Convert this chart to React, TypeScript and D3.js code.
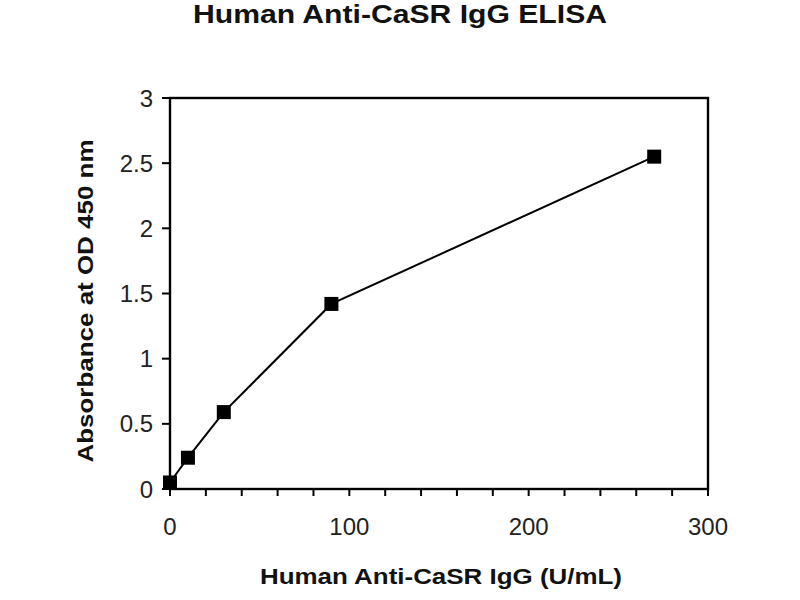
import React from "react";
import * as d3 from "d3";

const concentrations = [0, 10, 30, 90, 270];
const absorbance = [0.05, 0.24, 0.59, 1.42, 2.55];
const xTickLabels = [0, 100, 200, 300];
const yTickLabels = [0, 0.5, 1, 1.5, 2, 2.5, 3];
const xMinorTicks = d3.range(0, 301, 20);

export default function App() {
  const W = 800, H = 600;
  const left = 170, right = 708, top = 98, bottom = 489;
  const x = d3.scaleLinear().domain([0, 300]).range([left, right]);
  const y = d3.scaleLinear().domain([0, 3]).range([bottom, top]);
  const line = d3.line<number>()
    .x((_, i) => x(concentrations[i]))
    .y((d) => y(d));
  const font = "Arimo, 'Liberation Sans', Arial, sans-serif";
  const ms = 14;
  return (
    <svg width={W} height={H} style={{ position: "absolute", left: 0, top: 0, background: "#fff" }} fontFamily={font}>
      <rect width={W} height={H} fill="#fff" />
      <text x={400} y={23} textAnchor="middle" fontSize={25} fontWeight="bold" fill="#111"
        textLength={414} lengthAdjust="spacingAndGlyphs">Human Anti-CaSR IgG ELISA</text>
      <rect x={left} y={top} width={right - left} height={bottom - top} fill="none" stroke="#000" strokeWidth={2.4} />
      {xMinorTicks.map((t) => (
        <line key={"xt" + t} x1={x(t)} x2={x(t)} y1={bottom} y2={bottom + 7} stroke="#000" strokeWidth={2} />
      ))}
      {xTickLabels.map((t) => (
        <text key={"xl" + t} x={x(t)} y={535} textAnchor="middle" fontSize={24} fill="#222">{t}</text>
      ))}
      {yTickLabels.map((t) => (
        <g key={"y" + t}>
          <line x1={left - 8} x2={left} y1={y(t)} y2={y(t)} stroke="#000" strokeWidth={2} />
          <text x={153} y={y(t) + 8.5} textAnchor="end" fontSize={24} fill="#222">{t}</text>
        </g>
      ))}
      <path d={line(absorbance) || ""} fill="none" stroke="#000" strokeWidth={2} />
      {absorbance.map((v, i) => (
        <rect key={"m" + i} x={x(concentrations[i]) - ms / 2} y={y(v) - ms / 2} width={ms} height={ms} fill="#000" />
      ))}
      <text x={441} y={584} textAnchor="middle" fontSize={22} fontWeight="bold" fill="#111"
        textLength={362} lengthAdjust="spacingAndGlyphs">Human Anti-CaSR IgG (U/mL)</text>
      <text transform={`translate(93,301) rotate(-90)`} textAnchor="middle" fontSize={22} fontWeight="bold" fill="#111"
        textLength={323} lengthAdjust="spacingAndGlyphs">Absorbance at OD 450 nm</text>
    </svg>
  );
}
